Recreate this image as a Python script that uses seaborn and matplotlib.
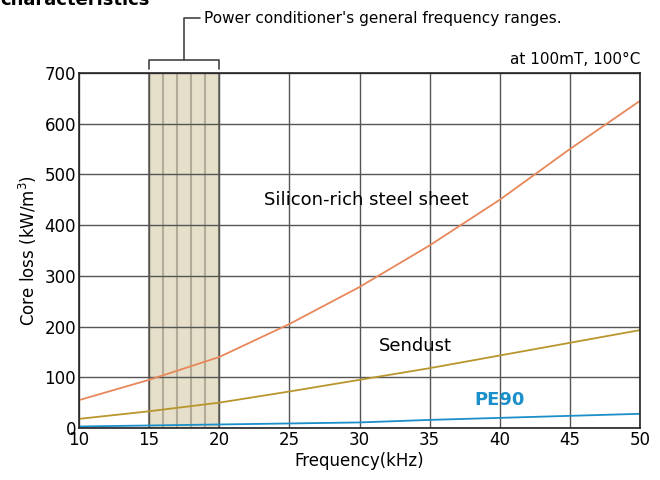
import matplotlib.pyplot as plt
import pandas as pd
import seaborn as sns

freq = [10, 15, 20, 25, 30, 35, 40, 45, 50]
silicon_steel = [55, 95, 140, 205, 278, 360, 450, 550, 645]
sendust = [18, 33, 50, 72, 95, 118, 143, 168, 193]
pe90 = [3, 5, 7, 9, 11, 16, 20, 24, 28]

series_names = ["Silicon-rich steel sheet", "Sendust", "PE90"]
series_colors = ["#e8875a", "#b8962e", "#1a8fc9"]
band = (15, 20)
band_lines = [16, 17, 18, 19]


def main():
    df = pd.DataFrame({
        "freq": freq * 3,
        "loss": silicon_steel + sendust + pe90,
        "material": [n for n in series_names for _ in freq],
    })

    sns.set_style("white")
    plt.rcParams["font.family"] = ["DejaVu Sans"]
    plt.rcParams["text.color"] = "black"
    plt.rcParams["axes.labelcolor"] = "black"
    plt.rcParams["xtick.color"] = "black"
    plt.rcParams["ytick.color"] = "black"

    fig = plt.figure(figsize=(6.6, 4.8), dpi=100)
    ax = fig.add_axes([0.1197, 0.1083, 0.85, 0.7397])

    ax.axvspan(*band, color="#e6dfc9", zorder=0.2, lw=0)
    for x in band_lines:
        ax.axvline(x, color="#b3aa98", lw=1.5, zorder=0.3)
    for x in band:
        ax.axvline(x, color="#8a8373", lw=1.5, zorder=0.3)

    ax.set_axisbelow(True)
    ax.grid(True, color="#555555", lw=1)

    sns.lineplot(
        data=df, x="freq", y="loss", hue="material",
        palette=dict(zip(series_names, series_colors)),
        legend=False, ax=ax, lw=1.3,
    )

    ax.set_xlim(10, 50)
    ax.set_ylim(0, 700)
    ax.set_xticks(range(10, 51, 5))
    ax.set_yticks(range(0, 701, 100))
    ax.tick_params(labelsize=12, length=0, pad=2)
    for s in ax.spines.values():
        s.set_color("#222222")
        s.set_linewidth(1.2)

    ax.set_xlabel("Frequency(kHz)", fontsize=12, labelpad=2)
    ax.set_ylabel("Core loss (kW/m$^3$)", fontsize=12, labelpad=4)

    ax.text(30.5, 450, "Silicon-rich steel sheet", fontsize=13, ha="center", va="center")
    ax.text(34, 162, "Sendust", fontsize=13, ha="center", va="center")
    ax.text(40, 55, "PE90", fontsize=13, ha="center", va="center",
            color=series_colors[2], fontweight="bold")
    ax.text(50, 712, "at 100mT, 100°C", fontsize=11, ha="right", va="bottom")

    # bracket for the shaded band
    kw = dict(color="#444444", lw=1.2, clip_on=False, transform=ax.transData)
    ax.plot([15, 15, 20, 20], [708, 726, 726, 708], **kw)
    ax.plot([17.5, 17.5, 18.6], [726, 808, 808], **kw)
    ax.text(18.9, 808, "Power conditioner's general frequency ranges.",
            fontsize=11, ha="left", va="center")

    fig.text(0.0, 1.0, "characteristics", fontsize=13, fontweight="bold",
             ha="left", va="center")

    fig.savefig("out.png", dpi=100)


if __name__ == "__main__":
    main()
